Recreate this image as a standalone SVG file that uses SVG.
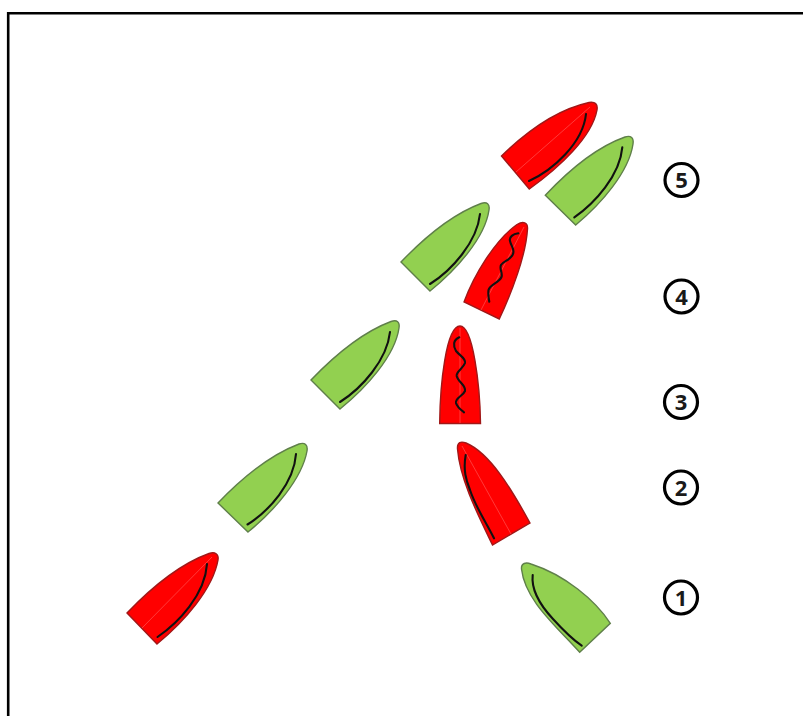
<svg xmlns="http://www.w3.org/2000/svg" width="803" height="716" viewBox="0 0 803 716">
<style>
.g{fill:#92d050;stroke:#5f7f4a;stroke-width:1.4}
.r{fill:#ff0000;stroke:#a01818;stroke-width:1.4}
.s{fill:none;stroke:#111;stroke-width:2.1;stroke-linecap:round}
.h{fill:none;stroke:#ff3a3a;stroke-width:1}
.c{fill:#fff;stroke:#000;stroke-width:3.2}
.t{font-family:"Open Sans","Liberation Sans",sans-serif;font-size:22px;font-weight:700;fill:#1a1a1a;text-anchor:middle}
</style>
<path id="frame" d="M8.2 716V13.2H803" fill="none" stroke="#000" stroke-width="2.6"/>
<g id="boat-red-5"><path class="r" d="M501.5 156C525 133 555 110 589 102.5C595 101.5 598 104 597 110C592 137 560 167 529.3 189Z"/><path class="h" d="M516 172L590 107"/><path class="s" d="M529 181C553 170 583 143 586 114"/></g>
<g id="boat-green-5"><path class="g" d="M545.3 195.3C569 170 597 147 625 137C631 135 634 138 633 144C629 172 601 204 575.7 225Z"/><path class="s" d="M574.3 217.3C595 203 620 175 622.3 147.3"/></g>
<g id="boat-green-4"><path class="g" d="M401 262C425 237 453 214 481 203.5C487 201.5 490 204 489 210C485 238 456 270 430 291Z"/><path class="s" d="M430 284C452 270 477 242 480 214"/></g>
<g id="boat-red-4"><path class="r" d="M464 302C474 275 495 240 517 224.5C523 221 528 222 527.5 229C526 255 512 292 499.3 319Z"/><path class="h" d="M481 310L524 227"/><path class="s" d="M518.3 233.3C513 234 509 237 510 241C511 246 515 249 513 254C511 260 503 261 501 265C499 269 503 273 501.5 277C499 283 490 284 488.5 290C488 294 488.5 298 489.3 301.7"/></g>
<g id="boat-green-3"><path class="g" d="M311 380C335 355 363 332 391 321.5C397 319.5 400 322 399 328C395 356 366 388 340 409Z"/><path class="s" d="M340 402C362 388 387 360 390 332"/></g>
<g id="boat-red-3"><path class="r" d="M439.7 423.5C440 385 446 326 460 326C473 326 480 385 480.5 423.5Z"/><path class="h" d="M460 328V423"/><path class="s" d="M459.3 337.3C453 340 453 346 456 351C460 356 466 358 465 363C463 369 456 371 456.7 376C458 382 466 385 465 391C463 396 455 398 456 403C457 407 461 410 464 412.3"/></g>
<g id="boat-green-2"><path class="g" d="M218 503C242 478 270 455 299 444C305 442 308 445 307 451C302 479 274 511 248 532Z"/><path class="s" d="M247.5 524.5C269 511 294 483 296 454"/></g>
<g id="boat-red-2"><path class="r" d="M457.5 449C457 442 461 441 466 443C490 453 512 490 530 523L492.5 545C478 515 460 480 457.5 449Z"/><path class="h" d="M462 446L511 534"/><path class="s" d="M465.7 455C463 470 466 480 470 490C476 508 486 522 494 538.3"/></g>
<g id="boat-green-1"><path class="g" d="M521.5 569C521 563 526 562 531 564C565 575 595 600 610.3 623.3L579.7 652.3C555 625 525 600 521.5 569Z"/><path class="s" d="M532.7 575C531 590 540 605 553 619C563 630 572 639 581.7 645.7"/></g>
<g id="boat-red-1"><path class="r" d="M127 613C151 588 180 564 209 553.5C215 551.5 219 554 218 560C213 589 184 622 157 644Z"/><path class="h" d="M142 628L212 557"/><path class="s" d="M157.5 637C178 623 205 595 207 564"/></g>
<g id="label-5"><circle class="c" cx="681.5" cy="180" r="16.5"/><text class="t" x="681.5" y="188">5</text></g>
<g id="label-4"><circle class="c" cx="681.5" cy="296.5" r="16.5"/><text class="t" x="681.5" y="304.5">4</text></g>
<g id="label-3"><circle class="c" cx="681" cy="402" r="16.5"/><text class="t" x="681" y="410">3</text></g>
<g id="label-2"><circle class="c" cx="681" cy="487.5" r="16.5"/><text class="t" x="681" y="495.5">2</text></g>
<g id="label-1"><circle class="c" cx="681" cy="597.5" r="16.5"/><text class="t" x="681" y="605.5">1</text></g>
</svg>
